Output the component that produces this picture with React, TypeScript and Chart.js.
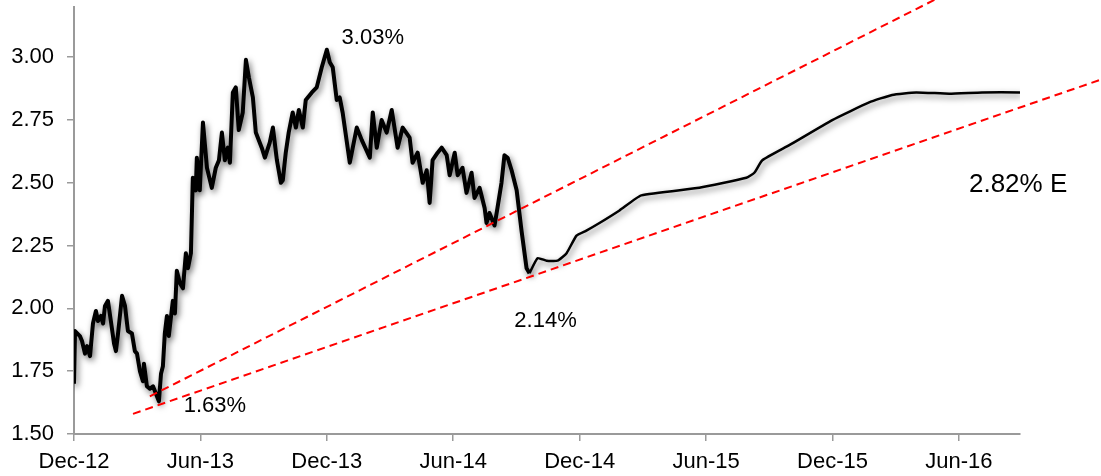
import React, { useEffect, useRef } from 'react';
import { Chart, registerables } from 'chart.js';

Chart.register(...registerables);

// ---- Data ----
// x values are months elapsed since Dec-2012
const xTickMonths = [0, 6, 12, 18, 24, 30, 36, 42];
const xTickLabels = ['Dec-12', 'Jun-13', 'Dec-13', 'Jun-14', 'Dec-14', 'Jun-15', 'Dec-15', 'Jun-16'];
const yTickValues = [1.5, 1.75, 2.0, 2.25, 2.5, 2.75, 3.0];

const histMonths = [
  0.00, 0.05, 0.28, 0.38, 0.52, 0.62, 0.76, 0.90, 1.04, 1.14,
  1.28, 1.38, 1.47, 1.61, 1.75, 1.90, 1.99, 2.09, 2.28, 2.42,
  2.56, 2.75, 2.89, 2.99, 3.13, 3.27, 3.32, 3.46, 3.60, 3.75,
  3.89, 4.03, 4.13, 4.22, 4.31, 4.41, 4.50, 4.69, 4.79, 4.88,
  5.03, 5.17, 5.31, 5.41, 5.55, 5.64, 5.78, 5.83, 5.97, 6.12,
  6.31, 6.54, 6.73, 6.88, 7.02, 7.16, 7.30, 7.40, 7.54, 7.68,
  7.82, 8.01, 8.16, 8.30, 8.49, 8.63, 8.91, 9.06, 9.29, 9.44,
  9.63, 9.82, 9.91, 10.05, 10.19, 10.38, 10.53, 10.67, 10.86, 11.00,
  11.29, 11.52, 11.76, 12.00, 12.14, 12.28, 12.47, 12.61, 12.75, 13.09,
  13.42, 13.66, 14.04, 14.18, 14.37, 14.60, 14.84, 15.08, 15.36, 15.60,
  15.93, 16.07, 16.31, 16.55, 16.74, 16.88, 17.02, 17.26, 17.45, 17.69,
  17.83, 18.07, 18.21, 18.44, 18.63, 18.87, 19.01, 19.25, 19.49, 19.58,
  19.72, 19.96, 20.10, 20.29, 20.43, 20.58, 20.77, 21.01, 21.24, 21.48, 21.62,
];
const histYields = [
  1.70, 1.91, 1.89, 1.87, 1.82, 1.85, 1.81, 1.94, 1.99, 1.95,
  1.97, 1.94, 2.01, 2.03, 1.95, 1.86, 1.83, 1.90, 2.05, 2.01,
  1.91, 1.90, 1.83, 1.82, 1.75, 1.71, 1.78, 1.69, 1.68, 1.69,
  1.66, 1.63, 1.74, 1.77, 1.90, 1.97, 1.89, 2.03, 1.98, 2.15,
  2.10, 2.08, 2.22, 2.16, 2.22, 2.52, 2.47, 2.60, 2.47, 2.74,
  2.56, 2.48, 2.56, 2.59, 2.70, 2.59, 2.64, 2.58, 2.86, 2.88,
  2.71, 2.78, 2.99, 2.92, 2.84, 2.70, 2.64, 2.60, 2.66, 2.72,
  2.59, 2.50, 2.51, 2.62, 2.70, 2.78, 2.72, 2.79, 2.72, 2.83,
  2.86, 2.88, 2.96, 3.03, 2.98, 2.96, 2.83, 2.84, 2.78, 2.58,
  2.72, 2.67, 2.60, 2.78, 2.64, 2.75, 2.70, 2.79, 2.64, 2.72,
  2.68, 2.58, 2.62, 2.50, 2.55, 2.42, 2.59, 2.62, 2.64, 2.61,
  2.53, 2.62, 2.53, 2.56, 2.46, 2.54, 2.44, 2.48, 2.40, 2.34,
  2.38, 2.33, 2.40, 2.50, 2.61, 2.60, 2.55, 2.47, 2.31, 2.16, 2.14,
];

const forecastMonths = [
  21.62, 22.00, 22.43, 22.95, 23.38, 23.85, 24.32, 24.94, 25.89, 26.93, 29.68,
  31.91, 32.29, 32.67, 33.95, 35.99, 37.74, 38.83, 39.97, 41.54, 43.10, 44.90,
];
const forecastYields = [
  2.14, 2.20, 2.19, 2.19, 2.22, 2.29, 2.31, 2.34, 2.39, 2.45, 2.48,
  2.52, 2.54, 2.59, 2.65, 2.75, 2.82, 2.85, 2.86, 2.855, 2.86, 2.86,
];

const upperTrendMonths = [3.6, 43.0];
const upperTrendYields = [1.65, 3.32];
const lowerTrendMonths = [2.8, 48.7];
const lowerTrendYields = [1.58, 2.91];

const noteTexts = ['3.03%', '1.63%', '2.14%', '2.82% E'];
const noteMonths = [14.18, 6.69, 22.38, 44.81];
const noteYields = [3.076, 1.611, 1.95, 2.491];

// ---- Styles ----
const FONT = '"Liberation Sans", Arial, Helvetica, sans-serif';
const noteSizes = [22, 22, 22, 26];
const AXIS_GREY = '#9a9a9a';

const toPoints = (xs: number[], ys: number[]) => xs.map((x, i) => ({ x, y: ys[i] }));

const shadowPlugin = {
  id: 'lineShadow',
  beforeDatasetDraw(chart: any, args: any) {
    const ds = chart.data.datasets[args.index];
    if (ds.shadow) {
      const ctx = chart.ctx;
      ctx.save();
      ctx.shadowColor = 'rgba(0,0,0,0.55)';
      ctx.shadowBlur = 6;
      ctx.shadowOffsetX = 2;
      ctx.shadowOffsetY = 3;
    }
  },
  afterDatasetDraw(chart: any, args: any) {
    const ds = chart.data.datasets[args.index];
    if (ds.shadow) chart.ctx.restore();
  },
};

const notesPlugin = {
  id: 'notes',
  afterDatasetsDraw(chart: any) {
    const { ctx, scales } = chart;
    ctx.save();
    ctx.fillStyle = '#000';
    ctx.textAlign = 'center';
    ctx.textBaseline = 'middle';
    noteTexts.forEach((t, i) => {
      ctx.font = `${noteSizes[i]}px ${FONT}`;
      ctx.fillText(t, scales.x.getPixelForValue(noteMonths[i]), scales.y.getPixelForValue(noteYields[i]));
    });
    ctx.restore();
  },
};

export default function App() {
  const ref = useRef<HTMLCanvasElement | null>(null);

  useEffect(() => {
    if (!ref.current) return;
    Chart.defaults.font.family = FONT;
    const chart = new Chart(ref.current, {
      type: 'line',
      data: {
        datasets: [
          {
            data: toPoints(upperTrendMonths, upperTrendYields),
            borderColor: '#ff0000',
            borderWidth: 2,
            borderDash: [8, 5],
            pointRadius: 0,
            clip: false,
            tension: 0,
          } as any,
          {
            data: toPoints(lowerTrendMonths, lowerTrendYields),
            borderColor: '#ff0000',
            borderWidth: 2,
            borderDash: [8, 5],
            pointRadius: 0,
            clip: false,
            tension: 0,
          } as any,
          {
            data: toPoints(histMonths, histYields),
            borderColor: '#000',
            borderWidth: 4,
            pointRadius: 0,
            tension: 0,
            shadow: true,
            borderJoinStyle: 'round',
          } as any,
          {
            data: toPoints(forecastMonths, forecastYields),
            borderColor: '#000',
            borderWidth: 2.5,
            pointRadius: 0,
            tension: 0.15,
            shadow: true,
            borderJoinStyle: 'round',
          } as any,
        ],
      },
      options: {
        animation: false,
        responsive: false,
        devicePixelRatio: 1,
        layout: { padding: { top: 7, right: 81, left: 0, bottom: 0 } },
        plugins: { legend: { display: false }, tooltip: { enabled: false } },
        scales: {
          x: {
            type: 'linear',
            min: 0,
            max: 44.9,
            afterBuildTicks: (s: any) => {
              s.ticks = xTickMonths.map((v) => ({ value: v }));
            },
            afterFit: (s: any) => {
              s.height = 42;
              s.paddingLeft = 0;
              s.paddingRight = 0;
            },
            ticks: {
              callback: (_v: any, i: number) => xTickLabels[i],
              font: { size: 22 },
              color: '#000',
              padding: 8,
              maxRotation: 0,
              autoSkip: false,
            },
            grid: { drawOnChartArea: false, drawTicks: true, tickLength: 7, color: AXIS_GREY, lineWidth: 1.5 },
            border: { color: AXIS_GREY, width: 2 },
          },
          y: {
            type: 'linear',
            min: 1.5,
            max: 3.2,
            afterBuildTicks: (s: any) => {
              s.ticks = yTickValues.map((v) => ({ value: v }));
            },
            afterFit: (s: any) => {
              s.width = 74;
              s.paddingTop = 0;
              s.paddingBottom = 0;
            },
            ticks: {
              callback: (v: any) => Number(v).toFixed(2),
              font: { size: 22 },
              color: '#000',
              padding: 13,
            },
            grid: { drawOnChartArea: false, drawTicks: true, tickLength: 7, color: AXIS_GREY, lineWidth: 1.5 },
            border: { color: AXIS_GREY, width: 2 },
          },
        },
      } as any,
      plugins: [shadowPlugin, notesPlugin],
    });
    return () => chart.destroy();
  }, []);

  return (
    <div style={{ position: 'absolute', left: 0, top: 0, width: 1101, height: 476, background: '#fff' }}>
      <canvas ref={ref} width={1101} height={476} />
    </div>
  );
}
